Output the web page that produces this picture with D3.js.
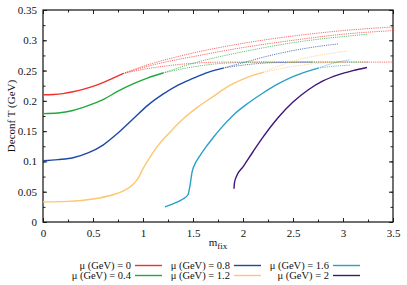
<!DOCTYPE html>
<html>
<head>
<meta charset="utf-8">
<script src="https://cdn.jsdelivr.net/npm/d3@7"></script>
<style>
  body { margin: 0; background: #fff; }
  svg text { font-family: "Liberation Serif", "Times New Roman", serif; fill: #111; }
</style>
</head>
<body>
<div id="chart"></div>
<script>
// mu values and colours of the series
var muLabels = ['0', '0.4', '0.8', '1.2', '1.6', '2'];
var colors = ['#f0302a', '#22a83a', '#1d48a6', '#fdc672', '#2aa0c6', '#3e1676'];

// solid parts, [m_fix, T]
var solid0 = [[0,0.21],[0.1,0.2105],[0.2,0.212],[0.3,0.215],[0.4,0.219],[0.5,0.224],[0.6,0.23],[0.7,0.2375],[0.8,0.245]];
var solid04 = [[0,0.179],[0.15,0.18],[0.3,0.184],[0.45,0.192],[0.6,0.202],[0.75,0.216],[0.9,0.228],[1.05,0.238],[1.2,0.246]];
var solid08 = [[0,0.101],[0.15,0.103],[0.3,0.106],[0.45,0.114],[0.6,0.127],[0.75,0.147],[0.9,0.17],[1.05,0.193],[1.2,0.211],[1.35,0.226],[1.5,0.237],[1.65,0.247],[1.8,0.254]];
var solid12 = [[0,0.033],[0.25,0.034],[0.5,0.038],[0.7,0.045],[0.8,0.051],[0.9,0.062],[0.95,0.072],[1.0,0.088],[1.07,0.107],[1.15,0.126],[1.25,0.145],[1.4,0.17],[1.55,0.19],[1.7,0.207],[1.85,0.224],[2.0,0.236],[2.2,0.247]];
var solid16 = [[1.22,0.025],[1.3,0.03],[1.4,0.038],[1.45,0.045],[1.47,0.06],[1.49,0.082],[1.52,0.096],[1.56,0.107],[1.63,0.124],[1.7,0.139],[1.78,0.155],[1.9,0.176],[2.05,0.196],[2.2,0.213],[2.35,0.228],[2.5,0.24],[2.65,0.249],[2.75,0.254]];
var solid2 = [[1.91,0.055],[1.915,0.065],[1.94,0.077],[2.0,0.091],[2.1,0.116],[2.2,0.14],[2.35,0.172],[2.5,0.198],[2.65,0.218],[2.8,0.233],[2.95,0.243],[3.1,0.25],[3.24,0.255]];

// dotted branches
var dot0 = [
  [[0.8,0.245],[1.0,0.257],[1.25,0.269],[1.5,0.279],[2.0,0.295],[2.5,0.307],[3.0,0.316],[3.5,0.322]],
  [[0.8,0.245],[1.0,0.255],[1.25,0.265],[1.5,0.273],[2.0,0.288],[2.5,0.3],[3.0,0.31],[3.5,0.316]],
  [[0.8,0.245],[1.0,0.252],[1.25,0.258],[1.5,0.262],[1.8,0.264],[3.5,0.264]]
];
var dot04 = [
  [[1.2,0.246],[1.5,0.262],[2.0,0.281],[2.5,0.296],[3.25,0.31]],
  [[1.2,0.246],[1.5,0.256],[1.8,0.262],[2.2,0.264],[3.25,0.264]]
];
var dot08 = [
  [[1.8,0.254],[2.0,0.263],[2.3,0.276],[2.6,0.286],[2.95,0.294]],
  [[1.8,0.254],[2.0,0.259],[2.3,0.263],[2.7,0.264]]
];
var dot12 = [
  [[2.2,0.247],[2.47,0.264],[2.75,0.275],[3.04,0.282]],
  [[2.2,0.247],[2.47,0.256],[2.75,0.262],[3.0,0.264]]
];
var dot16 = [
  [[2.75,0.254],[2.9,0.262],[3.07,0.268]],
  [[2.75,0.254],[2.9,0.257],[3.07,0.259]]
];

var solids = [solid0, solid04, solid08, solid12, solid16, solid2];
var dots = [dot0, dot04, dot08, dot12, dot16, []];

var xTicks = [0, 0.5, 1, 1.5, 2, 2.5, 3, 3.5];
var yTicks = [0, 0.05, 0.1, 0.15, 0.2, 0.25, 0.3, 0.35];

var W = 407, H = 285;
var mLeft = 43, mRight = 393, mTop = 10, mBottom = 222;

var svg = d3.select('#chart').append('svg').attr('width', W).attr('height', H);

var x = d3.scaleLinear().domain([0, 3.5]).range([mLeft, mRight]);
var y = d3.scaleLinear().domain([0, 0.35]).range([mBottom, mTop]);

var line = d3.line().x(function(d){ return x(d[0]); }).y(function(d){ return y(d[1]); }).curve(d3.curveMonotoneX);

// minor ticks
var xMinor = d3.range(0, 3.5001, 0.25);
var yMinor = d3.range(0, 0.35001, 0.025);

function addAxis(axis, tx, ty){
  return svg.append('g').attr('transform', 'translate(' + tx + ',' + ty + ')').call(axis);
}

addAxis(d3.axisBottom(x).tickValues(xTicks).tickSizeInner(-4).tickSizeOuter(0).tickPadding(7)
  .tickFormat(function(d){ return String(d); }), 0, mBottom);
addAxis(d3.axisLeft(y).tickValues(yTicks).tickSizeInner(-4).tickSizeOuter(0).tickPadding(6)
  .tickFormat(function(d){ return String(+d.toFixed(2)); }), mLeft, 0);
addAxis(d3.axisTop(x).tickValues(xTicks).tickSizeInner(-4).tickSizeOuter(0).tickFormat(''), 0, mTop);
addAxis(d3.axisRight(y).tickValues(yTicks).tickSizeInner(-4).tickSizeOuter(0).tickFormat(''), mRight, 0);
addAxis(d3.axisBottom(x).tickValues(xMinor).tickSizeInner(-2.5).tickSizeOuter(0).tickFormat(''), 0, mBottom);
addAxis(d3.axisTop(x).tickValues(xMinor).tickSizeInner(-2.5).tickSizeOuter(0).tickFormat(''), 0, mTop);
addAxis(d3.axisLeft(y).tickValues(yMinor).tickSizeInner(-2.5).tickSizeOuter(0).tickFormat(''), mLeft, 0);
addAxis(d3.axisRight(y).tickValues(yMinor).tickSizeInner(-2.5).tickSizeOuter(0).tickFormat(''), mRight, 0);

svg.selectAll('.domain').remove();
svg.selectAll('.tick line').attr('stroke', '#222');
svg.selectAll('.tick text').attr('fill', '#111').style('font-size', '11px')
  .style('font-family', '"Liberation Serif", "Times New Roman", serif');

// frame
svg.append('rect').attr('x', mLeft).attr('y', mTop).attr('width', mRight - mLeft).attr('height', mBottom - mTop)
  .attr('fill', 'none').attr('stroke', '#111').attr('stroke-width', 1.2);

// dotted branches
dots.forEach(function(br, i){
  br.forEach(function(pts){
    svg.append('path').attr('d', line(pts)).attr('fill', 'none')
      .attr('stroke', colors[i]).attr('stroke-width', 1).attr('stroke-opacity', 0.7)
      .attr('stroke-dasharray', '1.2,1');
  });
});

// solid curves
solids.forEach(function(pts, i){
  svg.append('path').attr('d', line(pts)).attr('fill', 'none')
    .attr('stroke', colors[i]).attr('stroke-width', 1.4);
});

// axis titles
svg.append('text').attr('transform', 'translate(15,116) rotate(-90)').attr('text-anchor', 'middle')
  .style('font-size', '11px').text('Deconf T (GeV)');
var xt = svg.append('text').attr('x', 218).attr('y', 246).attr('text-anchor', 'middle').style('font-size', '11px');
xt.append('tspan').text('m');
xt.append('tspan').attr('dy', 3).style('font-size', '9px').text('fix');

// legend
var colTextX = [131, 230, 329];
var colLineX = [135, 234, 333];
var rowY = [265.5, 275.5];
muLabels.forEach(function(m, i){
  var c = Math.floor(i / 2), r = i % 2;
  svg.append('text').attr('x', colTextX[c]).attr('y', rowY[r] + 3.5).attr('text-anchor', 'end')
    .style('font-size', '10.5px').text('\u03bc (GeV) = ' + m);
  svg.append('line').attr('x1', colLineX[c]).attr('x2', colLineX[c] + 27)
    .attr('y1', rowY[r]).attr('y2', rowY[r]).attr('stroke', colors[i]).attr('stroke-width', 1.4);
});
</script>
</body>
</html>
